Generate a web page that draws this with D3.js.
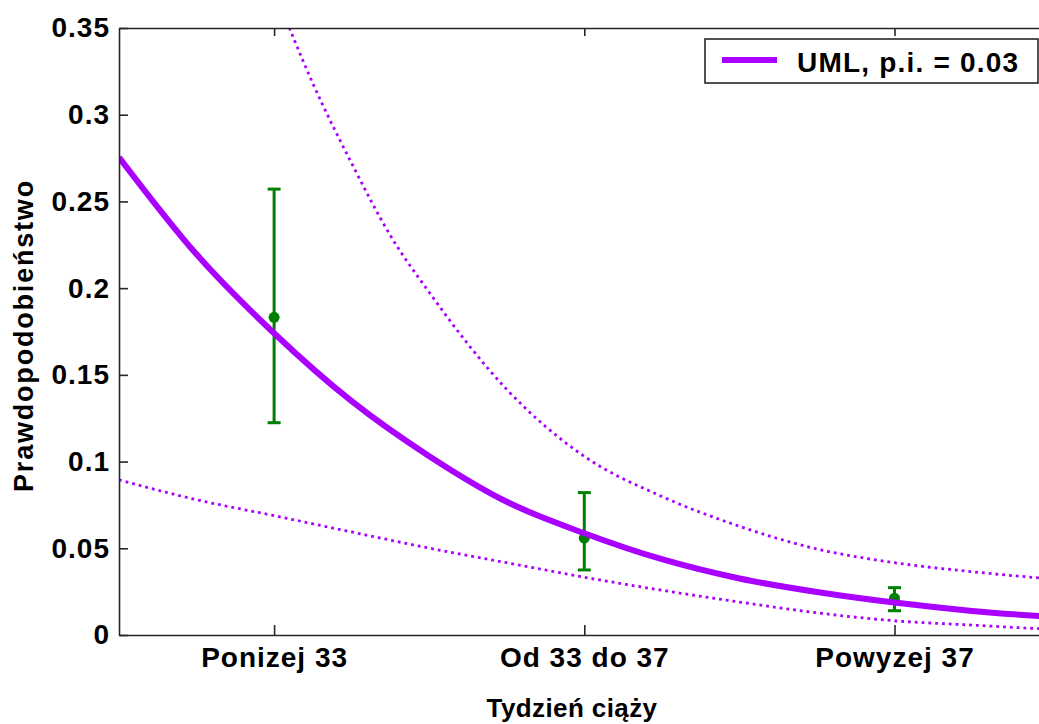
<!DOCTYPE html>
<html>
<head>
<meta charset="utf-8">
<script src="https://cdn.jsdelivr.net/npm/d3@7"></script>
<style>
  html, body { margin: 0; padding: 0; background: #fff; }
  svg { display: block; }
  text { font-family: "Liberation Sans", Arial, sans-serif; font-weight: bold; fill: #000; }
</style>
</head>
<body>
<svg id="chart" width="1039" height="724"></svg>
<script>
// Gestational-age categories and observed proportions with error bars
const categories = ["Ponizej 33", "Od 33 do 37", "Powyzej 37"];
const categoryPos = [1, 2, 3];
const observed = [0.1832, 0.0558, 0.0212];
const observedLow = [0.1224, 0.0375, 0.0140];
const observedHigh = [0.2571, 0.0821, 0.0273];

// Fitted UML curve and its band (x = category position)
const fitX = [0.5, 0.75, 1.0, 1.25, 1.5, 1.75, 2.0, 2.25, 2.5, 2.75, 3.0, 3.25, 3.5];
const fitY = [0.2755, 0.2195, 0.1740, 0.1348, 0.1031, 0.0768, 0.0587, 0.0437, 0.0326, 0.0248, 0.0187, 0.0139, 0.0105];

const upperX = [1.0, 1.125, 1.25, 1.375, 1.5, 1.75, 2.0, 2.25, 2.5, 2.75, 3.0, 3.25, 3.5];
const upperY = [0.372, 0.318, 0.272, 0.2303, 0.1976, 0.1416, 0.1030, 0.0799, 0.0627, 0.0496, 0.0417, 0.0365, 0.0324];

const lowerX = [0.5, 0.75, 1.0, 1.25, 1.5, 1.75, 2.0, 2.25, 2.5, 2.75, 3.0, 3.25, 3.5];
const lowerY = [0.0895, 0.0780, 0.0688, 0.0594, 0.0501, 0.0417, 0.0333, 0.0258, 0.0190, 0.0128, 0.0082, 0.0057, 0.0033];

const yTicks = [0, 0.05, 0.1, 0.15, 0.2, 0.25, 0.3, 0.35];
const yTickLabels = ["0", "0.05", "0.1", "0.15", "0.2", "0.25", "0.3", "0.35"];
const legendLabel = "UML, p.i. = 0.03";
const xTitle = "Tydzień ciąży";
const yTitle = "Prawdopodobieństwo";

const purple = "#aa00ff";
const green = "#008000";

const svg = d3.select("#chart");
const plotLeft = 119, plotRight = 1049.6, plotTop = 28, plotBottom = 635;

const x = d3.scaleLinear().domain([0.5, 3.5]).range([plotLeft, plotRight]);
const y = d3.scaleLinear().domain([0, 0.35]).range([plotBottom, plotTop]);

svg.append("defs").append("clipPath").attr("id", "plotClip")
  .append("rect").attr("x", plotLeft).attr("y", plotTop)
  .attr("width", plotRight - plotLeft).attr("height", plotBottom - plotTop);

const plot = svg.append("g").attr("clip-path", "url(#plotClip)");

// Error bars with observed points
const bars = plot.append("g").attr("stroke", green).attr("stroke-width", 3).attr("fill", "none");
categoryPos.forEach((p, i) => {
  const cx = x(p);
  bars.append("line").attr("x1", cx).attr("x2", cx)
    .attr("y1", y(observedLow[i])).attr("y2", y(observedHigh[i]));
  bars.append("line").attr("x1", cx - 6.5).attr("x2", cx + 6.5)
    .attr("y1", y(observedLow[i])).attr("y2", y(observedLow[i]));
  bars.append("line").attr("x1", cx - 6.5).attr("x2", cx + 6.5)
    .attr("y1", y(observedHigh[i])).attr("y2", y(observedHigh[i]));
  plot.append("circle").attr("cx", cx).attr("cy", y(observed[i]))
    .attr("r", 5.5).attr("fill", green);
});

const line = d3.line().x(d => x(d[0])).y(d => y(d[1])).curve(d3.curveMonotoneX);

// Band curves (dotted)
[[upperX, upperY], [lowerX, lowerY]].forEach(([xs, ys]) => {
  plot.append("path")
    .datum(xs.map((v, i) => [v, ys[i]]))
    .attr("d", line)
    .attr("fill", "none")
    .attr("stroke", purple)
    .attr("stroke-width", 2.8)
    .attr("stroke-dasharray", "2.8,4");
});

// Fitted curve
plot.append("path")
  .datum(fitX.map((v, i) => [v, fitY[i]]))
  .attr("d", line)
  .attr("fill", "none")
  .attr("stroke", purple)
  .attr("stroke-width", 6)
  .attr("stroke-linejoin", "round");

// Axes: ticks point inward, frame on all sides
const axisColor = "#262626";
const fontSize = 28;

const yAxis = d3.axisLeft(y).tickValues(yTicks)
  .tickFormat((d, i) => yTickLabels[i]).tickSizeInner(-9).tickSizeOuter(0).tickPadding(9);
const gy = svg.append("g").attr("transform", `translate(${plotLeft},0)`).call(yAxis);

const xAxis = d3.axisBottom(x).tickValues(categoryPos)
  .tickFormat((d, i) => categories[i]).tickSizeInner(-10).tickSizeOuter(0).tickPadding(12);
const gx = svg.append("g").attr("transform", `translate(0,${plotBottom})`).call(xAxis);

const xTop = d3.axisTop(x).tickValues(categoryPos).tickFormat("").tickSizeInner(-8).tickSizeOuter(0);
const gxt = svg.append("g").attr("transform", `translate(0,${plotTop})`).call(xTop);

const yRight = d3.axisRight(y).tickValues(yTicks).tickFormat("").tickSizeInner(-8).tickSizeOuter(0);
const gyr = svg.append("g").attr("transform", `translate(${plotRight},0)`).call(yRight);

[gy, gx, gxt, gyr].forEach(g => {
  g.selectAll(".domain").attr("stroke", axisColor).attr("stroke-width", 1.6);
  g.selectAll(".tick line").attr("stroke", axisColor).attr("stroke-width", 1.6);
  g.selectAll(".tick text")
    .style("font-family", '"Liberation Sans", Arial, sans-serif')
    .style("font-weight", "bold")
    .style("font-size", fontSize + "px")
    .style("letter-spacing", "1px")
    .attr("fill", "#000");
});

// Axis titles
svg.append("text")
  .attr("x", 572).attr("y", 717)
  .attr("text-anchor", "middle")
  .style("font-size", "26px")
  .style("letter-spacing", "0.4px")
  .text(xTitle);

svg.append("text")
  .attr("transform", `translate(33,${(plotTop + plotBottom) / 2 + 4}) rotate(-90)`)
  .attr("text-anchor", "middle")
  .style("font-size", "27px")
  .style("letter-spacing", "1.8px")
  .text(yTitle);

// Legend
const legend = svg.append("g");
legend.append("rect")
  .attr("x", 705).attr("y", 39).attr("width", 333).attr("height", 44)
  .attr("fill", "#fff").attr("stroke", axisColor).attr("stroke-width", 1.6);
legend.append("line")
  .attr("x1", 722).attr("x2", 777).attr("y1", 60).attr("y2", 60)
  .attr("stroke", purple).attr("stroke-width", 6);
legend.append("text")
  .attr("x", 797).attr("y", 72)
  .style("font-size", "28px")
  .style("letter-spacing", "1.2px")
  .text(legendLabel);
</script>
</body>
</html>
